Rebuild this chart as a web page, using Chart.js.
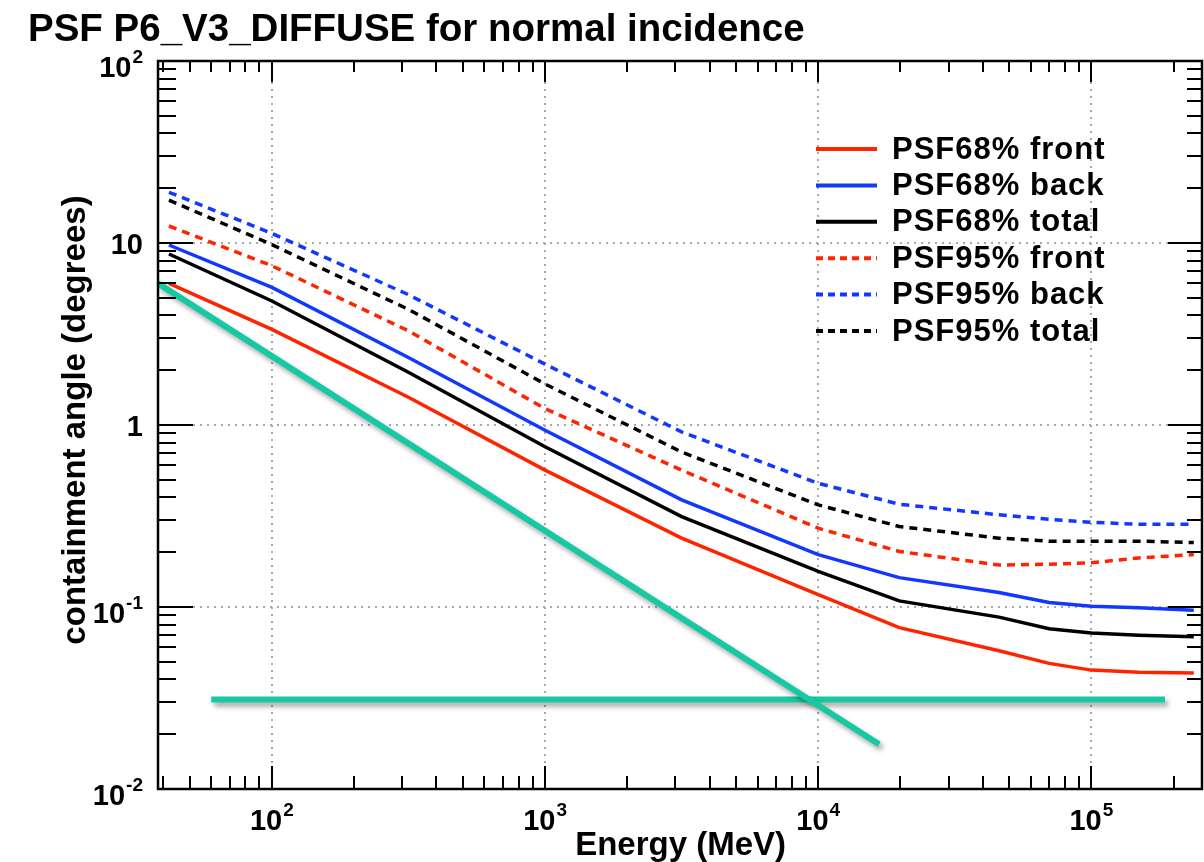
<!DOCTYPE html>
<html>
<head>
<meta charset="utf-8">
<script src="https://cdn.jsdelivr.net/npm/chart.js@4.4.1/dist/chart.umd.min.js"></script>
<style>
  html, body { margin: 0; padding: 0; background: #ffffff; }
  #wrap { width: 1204px; height: 862px; position: relative; }
</style>
</head>
<body>
<div id="wrap"><canvas id="c" width="1204" height="862"></canvas></div>
<script>
// ---- data ----
const chartTitle = "PSF P6_V3_DIFFUSE for normal incidence";
const xAxisTitle = "Energy (MeV)";
const yAxisTitle = "containment angle (degrees)";

const energy = [42, 100, 316, 1000, 3162, 10000, 19800, 45900, 70000, 100000, 149000, 237000];
const psf68Front = [6.0, 3.35, 1.42, 0.565, 0.239, 0.117, 0.077, 0.0575, 0.049, 0.045, 0.0438, 0.0434];
const psf68Back  = [9.75, 5.7, 2.35, 0.935, 0.388, 0.194, 0.145, 0.12, 0.106, 0.101, 0.099, 0.096];
const psf68Total = [8.7, 4.8, 1.95, 0.76, 0.314, 0.157, 0.108, 0.088, 0.076, 0.072, 0.070, 0.0686];
const psf95Front = [12.4, 7.5, 3.29, 1.23, 0.565, 0.271, 0.202, 0.170, 0.172, 0.175, 0.186, 0.194];
const psf95Back  = [19.0, 11.3, 5.2, 2.16, 0.916, 0.478, 0.367, 0.321, 0.303, 0.292, 0.285, 0.285];
const psf95Total = [17.2, 9.8, 4.32, 1.68, 0.71, 0.364, 0.277, 0.239, 0.230, 0.230, 0.230, 0.226];

const greenDiagX = [38.3, 16700];
const greenDiagY = [6.0, 0.0176];
const greenFlatX = [60, 186000];
const greenFlatY = [0.031, 0.031];

const seriesLabels = ["PSF68% front", "PSF68% back", "PSF68% total", "PSF95% front", "PSF95% back", "PSF95% total"];

const xTickValues = [100, 1000, 10000, 100000];
const xTickLabels = ["10^2", "10^3", "10^4", "10^5"];
const yTickValues = [0.01, 0.1, 1, 10, 100];
const yTickLabels = ["10^-2", "10^-1", "1", "10", "10^2"];

const xMin = 38.3, xMax = 254000, yMin = 0.01, yMax = 100;

// ---- styling ----
const RED = "#ff2400", BLUE = "#1238ff", BLACK = "#000000", GREEN = "#17c9a2";
const FONT = "'Liberation Sans', Arial, Helvetica, sans-serif";
const DASH = [8, 6];

function pts(xs, ys) { return xs.map((x, i) => ({ x: x, y: ys[i] })); }

const curveStyle = (color, dashed) => ({
  borderColor: color, backgroundColor: color, borderWidth: 3.5,
  borderDash: dashed ? DASH : [], pointRadius: 0, tension: 0, fill: false, order: 2
});

const datasets = [
  { label: "green diagonal", data: pts(greenDiagX, greenDiagY), borderColor: GREEN, borderWidth: 6,
    pointRadius: 0, fill: false, order: 0, shadow: true, noLegend: true },
  { label: "green flat", data: pts(greenFlatX, greenFlatY), borderColor: GREEN, borderWidth: 6,
    pointRadius: 0, fill: false, order: 0, shadow: true, noLegend: true },
  Object.assign({ label: seriesLabels[0], data: pts(energy, psf68Front) }, curveStyle(RED, false)),
  Object.assign({ label: seriesLabels[1], data: pts(energy, psf68Back) }, curveStyle(BLUE, false)),
  Object.assign({ label: seriesLabels[2], data: pts(energy, psf68Total) }, curveStyle(BLACK, false)),
  Object.assign({ label: seriesLabels[3], data: pts(energy, psf95Front) }, curveStyle(RED, true)),
  Object.assign({ label: seriesLabels[4], data: pts(energy, psf95Back) }, curveStyle(BLUE, true)),
  Object.assign({ label: seriesLabels[5], data: pts(energy, psf95Total) }, curveStyle(BLACK, true))
];

const shadowPlugin = {
  id: "shadow",
  beforeDatasetDraw(chart, args) {
    const ds = chart.data.datasets[args.index];
    if (ds.shadow) {
      const ctx = chart.ctx;
      ctx.save();
      ctx.shadowColor = "rgba(0,0,0,0.35)";
      ctx.shadowBlur = 5;
      ctx.shadowOffsetX = 3;
      ctx.shadowOffsetY = 4;
    }
  },
  afterDatasetDraw(chart, args) {
    const ds = chart.data.datasets[args.index];
    if (ds.shadow) chart.ctx.restore();
  }
};

function minorList(min, max) {
  const out = [];
  for (let e = -3; e <= 6; e++) {
    for (let m = 1; m <= 9; m++) {
      const v = m * Math.pow(10, e);
      if (v > min * 1.0001 && v < max * 0.9999) out.push({ v: v, major: m === 1 });
    }
  }
  return out;
}

// label "10^2" -> base "10" with raised exponent "2"
function drawExpLabel(ctx, label, x, y, align) {
  const parts = label.split("^");
  const base = parts[0], exp = parts[1];
  ctx.font = "bold 29px " + FONT;
  const wb = ctx.measureText(base).width;
  let we = 0;
  if (exp) { ctx.font = "bold 19px " + FONT; we = ctx.measureText(exp).width + 1; }
  const total = wb + we;
  const x0 = align === "center" ? x - total / 2 : x - total;
  ctx.textAlign = "left"; ctx.textBaseline = "alphabetic";
  ctx.font = "bold 29px " + FONT;
  ctx.fillText(base, x0, y);
  if (exp) {
    ctx.font = "bold 19px " + FONT;
    ctx.fillText(exp, x0 + wb + 1, y - 14);
  }
}

const framePlugin = {
  id: "frame",
  afterDatasetsDraw(chart) {
    const ctx = chart.ctx, a = chart.chartArea;
    const xs = chart.scales.x, ys = chart.scales.y;
    ctx.save();
    ctx.strokeStyle = "#000";
    ctx.lineWidth = 2;
    ctx.setLineDash([]);
    ctx.beginPath();
    minorList(xMin, xMax).forEach(t => {
      const px = Math.round(xs.getPixelForValue(t.v));
      const lb = t.major ? 23 : 13, lt = t.major ? 21 : 11;
      ctx.moveTo(px, a.bottom); ctx.lineTo(px, a.bottom - lb);
      ctx.moveTo(px, a.top); ctx.lineTo(px, a.top + lt);
    });
    minorList(yMin, yMax).forEach(t => {
      const py = Math.round(ys.getPixelForValue(t.v));
      const ll = t.major ? 35 : 18, lr = t.major ? 34 : 15;
      ctx.moveTo(a.left, py); ctx.lineTo(a.left + ll, py);
      ctx.moveTo(a.right, py); ctx.lineTo(a.right - lr, py);
    });
    ctx.stroke();
    ctx.lineWidth = 2.5;
    ctx.strokeRect(a.left, a.top, a.right - a.left, a.bottom - a.top);
    ctx.restore();
  },
  afterDraw(chart) {
    const ctx = chart.ctx;
    const xs = chart.scales.x, ys = chart.scales.y;
    ctx.save();
    ctx.fillStyle = "#000";
    // tick labels
    xTickValues.forEach((v, i) => {
      drawExpLabel(ctx, xTickLabels[i], xs.getPixelForValue(v), 830, "center");
    });
    yTickValues.forEach((v, i) => {
      const py = ys.getPixelForValue(v);
      const hasExp = yTickLabels[i].indexOf("^") >= 0;
      drawExpLabel(ctx, yTickLabels[i], 143, py + (hasExp ? 16 : 11), "right");
    });
    // main title
    ctx.font = "bold 38.5px " + FONT;
    ctx.textAlign = "left"; ctx.textBaseline = "alphabetic";
    ctx.fillText(chartTitle, 28, 41);
    // x axis title
    ctx.font = "bold 33px " + FONT;
    ctx.textAlign = "right";
    ctx.fillText(xAxisTitle, 786, 855);
    // y axis title
    ctx.save();
    ctx.translate(85, 420);
    ctx.rotate(-Math.PI / 2);
    ctx.textAlign = "center"; ctx.textBaseline = "alphabetic";
    ctx.fillText(yAxisTitle, 0, 0);
    ctx.restore();
    // legend
    const legendItems = chart.data.datasets.filter(d => !d.noLegend);
    ctx.font = "bold 31px " + FONT;
    try { ctx.letterSpacing = "1px"; } catch (e) {}
    ctx.textAlign = "left"; ctx.textBaseline = "middle";
    legendItems.forEach((d, i) => {
      const y = 149 + i * 36.4;
      ctx.save();
      ctx.strokeStyle = d.borderColor;
      ctx.lineWidth = 4;
      ctx.setLineDash(d.borderDash && d.borderDash.length ? [7, 5] : []);
      ctx.beginPath(); ctx.moveTo(816, y); ctx.lineTo(877, y); ctx.stroke();
      ctx.restore();
      ctx.fillText(d.label, 892, y + 1);
    });
    try { ctx.letterSpacing = "0px"; } catch (e) {}
    ctx.restore();
  }
};

new Chart(document.getElementById("c"), {
  type: "line",
  data: { datasets: datasets },
  plugins: [shadowPlugin, framePlugin],
  options: {
    responsive: false,
    animation: false,
    events: [],
    layout: { padding: { left: 0, right: 2, top: 61, bottom: 0 } },
    plugins: { legend: { display: false }, title: { display: false }, tooltip: { enabled: false } },
    scales: {
      x: {
        type: "logarithmic", min: xMin, max: xMax, bounds: "data",
        afterBuildTicks: s => { s.ticks = xTickValues.map(v => ({ value: v })); },
        afterFit: s => { s.height = 73; },
        ticks: { display: false, autoSkip: false },
        grid: { color: "#a8a8a8", lineWidth: 2, drawTicks: false },
        border: { display: false, dash: [2, 5] }
      },
      y: {
        type: "logarithmic", min: yMin, max: yMax, bounds: "data",
        afterBuildTicks: s => { s.ticks = yTickValues.map(v => ({ value: v })); },
        afterFit: s => { s.width = 158; },
        ticks: { display: false, autoSkip: false },
        grid: { color: "#a8a8a8", lineWidth: 2, drawTicks: false },
        border: { display: false, dash: [2, 5] }
      }
    }
  }
});
</script>
</body>
</html>
